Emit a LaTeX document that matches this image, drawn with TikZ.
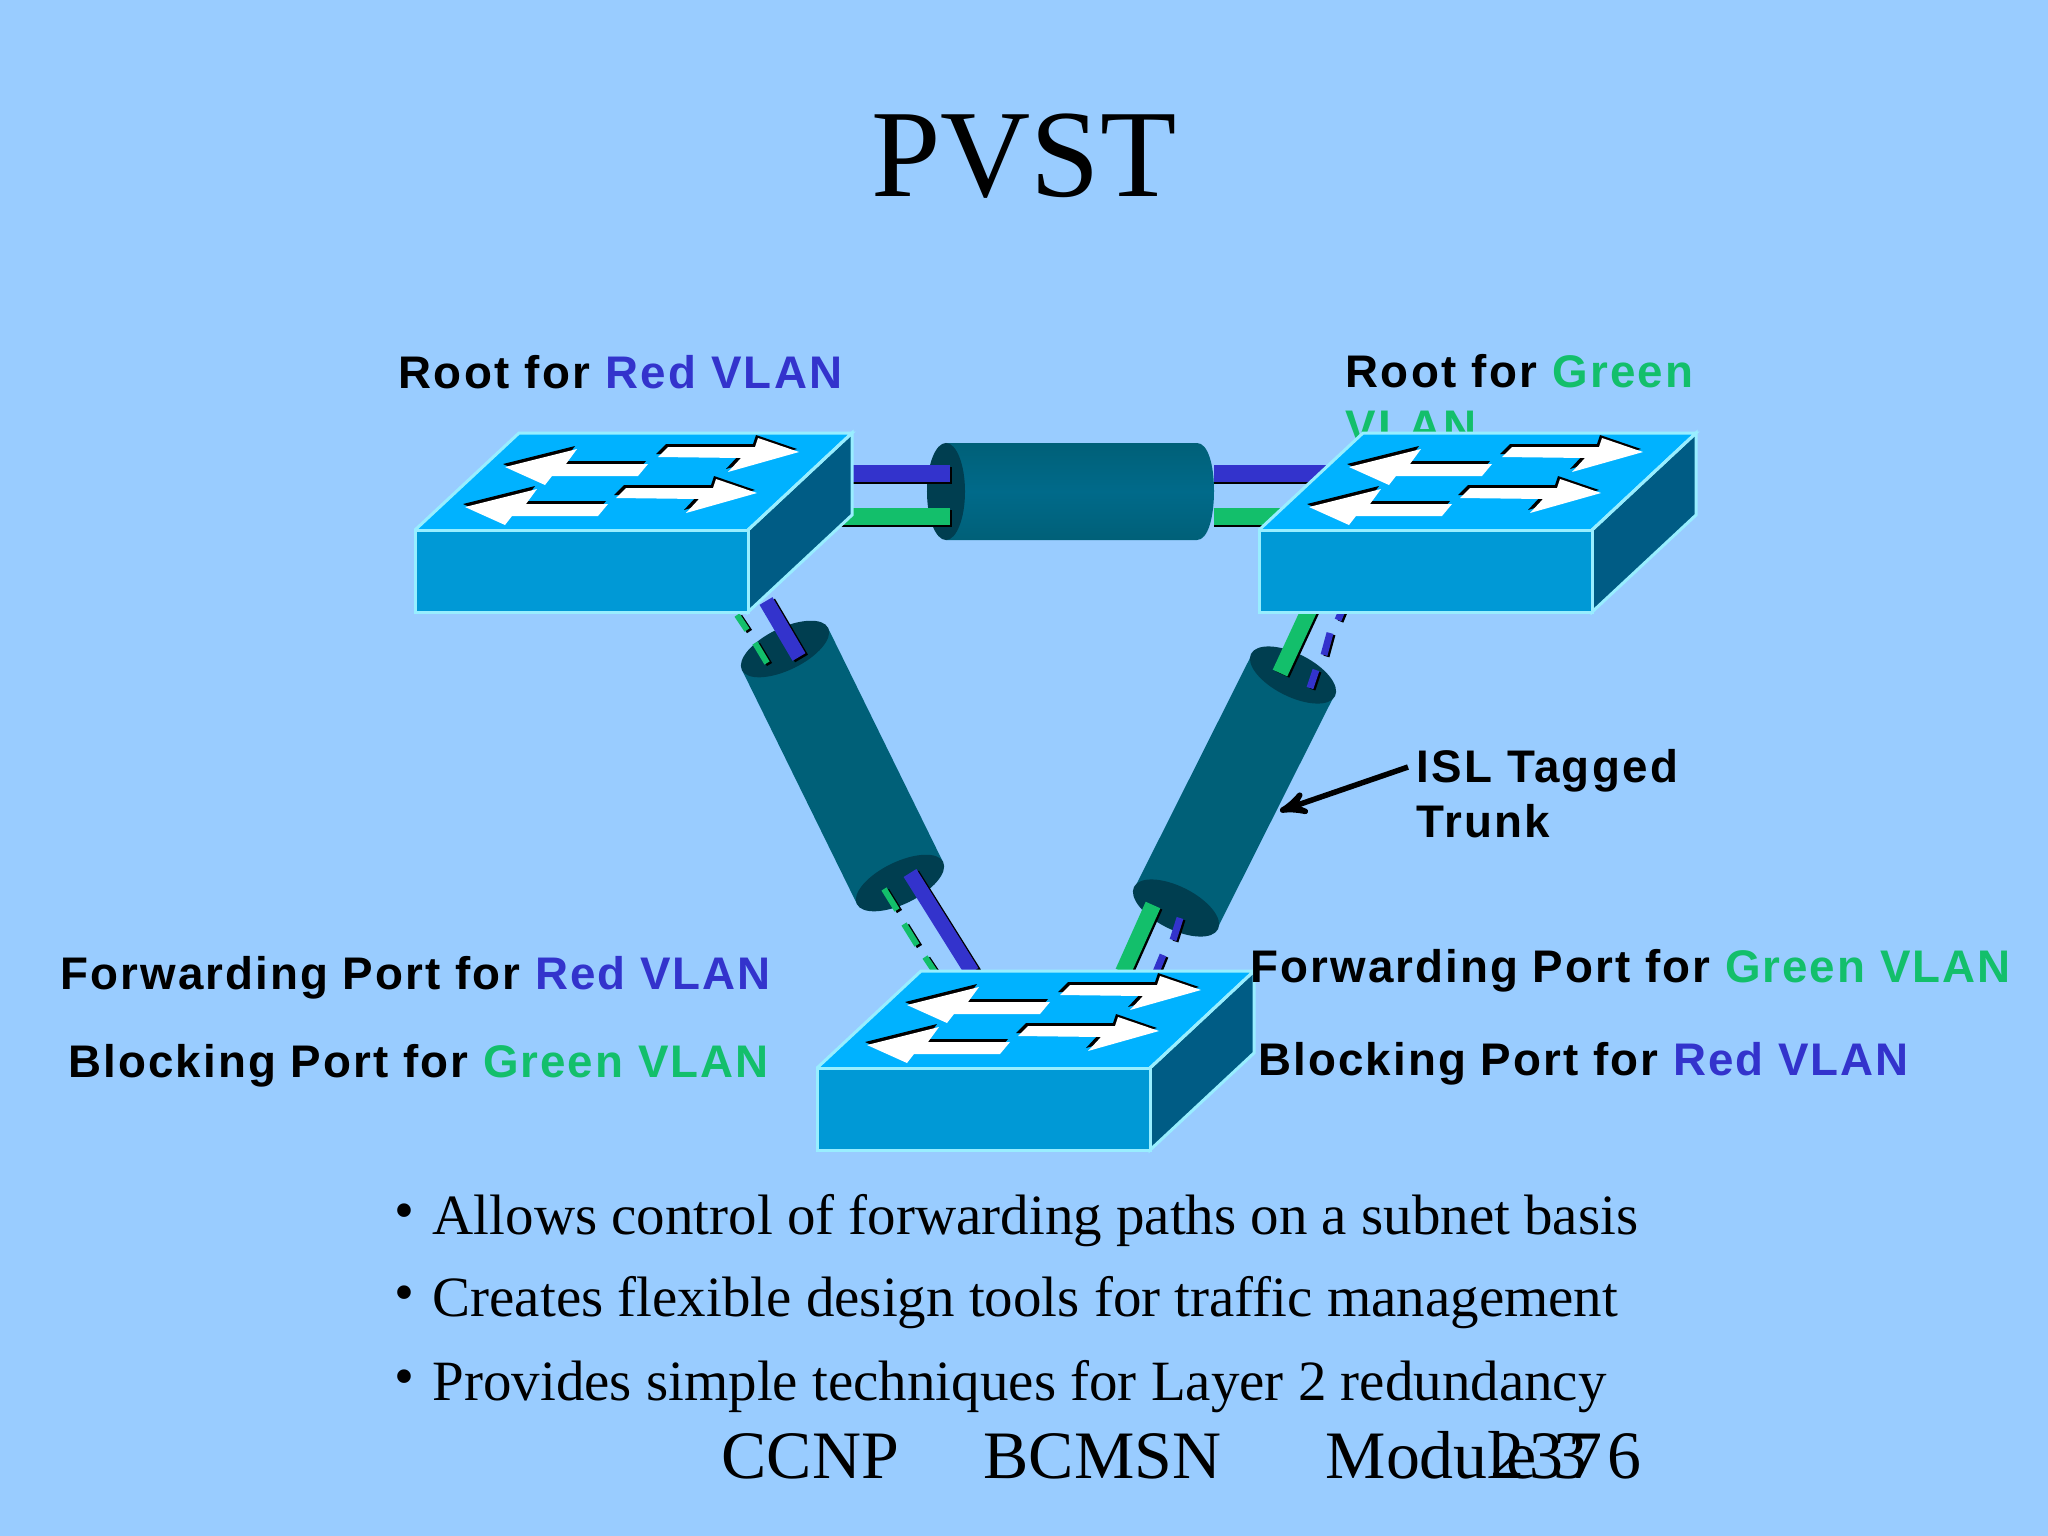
\documentclass[tikz,border=0pt]{standalone}
\usepackage{fontspec}
\setmainfont{Liberation Serif}
\newfontfamily\labelfont[LetterSpace=5]{Liberation Sans}
\newfontfamily\portfont[LetterSpace=4.5]{Liberation Sans}
\newfontfamily\digitfont[LetterSpace=7.5]{Liberation Serif}
\usepackage{tikz}
\usetikzlibrary{arrows, calc}
\definecolor{slidebg}{HTML}{99CCFF}
\definecolor{topface}{HTML}{00B2FF}
\definecolor{frontface}{HTML}{0099D6}
\definecolor{sideface}{HTML}{005C85}
\definecolor{edgeline}{HTML}{99EEFF}
\definecolor{tubebody}{HTML}{006078}
\definecolor{tubemid}{HTML}{006A8A}
\definecolor{tubeend}{HTML}{003E50}
\definecolor{vlanblue}{HTML}{3333CC}
\definecolor{vlangreen}{HTML}{13BF6B}
\tikzset{
  lbl/.style = {anchor=base west, inner sep=0pt, align=left,
    font=\labelfont\bfseries\fontsize{13pt}{15.4pt}\selectfont},
  portlbl/.style = {lbl, font=\portfont\bfseries\fontsize{13pt}{15.4pt}\selectfont},
  bullet/.style = {anchor=base west, inner sep=0pt, font=\fontsize{16.2pt}{18pt}\selectfont},
  foot/.style = {anchor=base west, inner sep=0pt, font=\fontsize{19.3pt}{22pt}\selectfont},
  face/.style = {draw=edgeline, line width=0.03cm, line join=miter},
  wblue/.style = {vlanblue, line width=0.15cm},
  wgreen/.style = {vlangreen, line width=0.16cm},
  wshadow/.style = {black, line width=0.15cm},
  thinblue/.style = {vlanblue, line width=0.07cm},
  thingreen/.style = {vlangreen, line width=0.06cm},
  thinshadow/.style = {black, line width=0.06cm},
  switch/.pic = {
    \fill[topface] (0,0) -- (104,-97) -- (437,-97) -- (333,0) -- cycle;
    \draw[face, fill=sideface] (333,0) -- (437,-97) -- (437,-15) -- (333,82) -- cycle;
    \draw[face, fill=frontface] (0,0) rectangle (333,82);
    \draw[face] (0,0) -- (104,-97) -- (437,-97) -- (333,0);
    % left arrows
    \foreach \dx/\dy in {0/0, -40/40} {
      \fill[black, shift={(\dx-2,\dy-3)}] (90,-63) -- (162,-81) -- (151,-66) -- (233,-66) -- (223,-54) -- (137,-54) -- (130,-45) -- cycle;
      \fill[white, shift={(\dx,\dy)}] (90,-63) -- (162,-81) -- (151,-66) -- (233,-66) -- (223,-54) -- (137,-54) -- (130,-45) -- cycle;
    }
    % right arrows
    \foreach \dx/\dy in {0/0, -42/41} {
      \fill[black, shift={(\dx-2,\dy-3)}] (253,-83) -- (340,-83) -- (343,-92) -- (384,-78) -- (313,-58) -- (326,-72) -- (243,-73) -- cycle;
      \fill[white, shift={(\dx,\dy)}] (253,-83) -- (340,-83) -- (343,-92) -- (384,-78) -- (313,-58) -- (326,-72) -- (243,-73) -- cycle;
    }
  }
}
% end a, end b, half width, angle, radii
\newcommand{\tube}[6]{
  \fill[tubebody] ($(#1)+(#3)$) -- ($(#2)+(#3)$) -- ($(#2)-(#3)$) -- ($(#1)-(#3)$) -- cycle;
  \fill[tubeend, shift={(#1)}, rotate=#4] (0,0) circle [x radius=#5, y radius=#6];
  \fill[tubeend, shift={(#2)}, rotate=#4] (0,0) circle [x radius=#5, y radius=#6];
}
% wire style, shadow style, from, to
\newcommand{\wire}[4]{
  \draw[#2] ($(#3)+(2.5,1.5)$) -- ($(#4)+(2.5,1.5)$);
  \draw[#1] (#3) -- (#4);
}

\begin{document}
\begin{tikzpicture}[x=0.01cm, y=-0.01cm, >=stealth']
\fill[slidebg] (0,0) rectangle (2048,1536);
\useasboundingbox (0,0) rectangle (2048,1536);

\node [anchor=base, inner sep=0pt, font=\fontsize{35.5pt}{40pt}\selectfont] (title) at (1024,196) {PVST};
\node [lbl] (roota) at (398,388) {Root for \textcolor{vlanblue}{Red VLAN}};
\node [lbl] (rootb) at (1345,442) {Root for \textcolor{vlangreen}{Green}\\\textcolor{vlangreen}{VLAN}};

% horizontal trunk
\coordinate (swaeast) at (840,473);
\coordinate (hl) at (950,473);
\coordinate (hr) at (1214,473);
\coordinate (swbwest) at (1340,473);
\coordinate (swaeastg) at (835,516);
\coordinate (hlg) at (950,516);
\coordinate (hrg) at (1214,516);
\coordinate (swbwestg) at (1280,516);
\shade[top color=tubebody, bottom color=tubebody, middle color=tubemid] (946,443) -- (1197,443) .. controls (1208,443) and (1214,465) .. (1214,491) .. controls (1214,517) and (1208,540) .. (1197,540) -- (946,540) -- cycle;
\fill[tubeend] (946,491.5) circle [x radius=0.19cm, y radius=0.485cm];
\foreach \a/\b/\c in {swaeast/hl/vlanblue, swaeastg/hlg/vlangreen} {
  \draw[black, line width=0.17cm] ($(\a)+(1.5,2.5)$) -- ($(\b)+(1.5,2.5)$);
  \draw[\c, line width=0.17cm] (\a) -- (\b);
}
\foreach \a/\b/\c in {hr/swbwest/vlanblue, hrg/swbwestg/vlangreen} {
  \draw[black, line width=0.17cm] ($(\a)+(0,2.5)$) -- ($(\b)+(0,2.5)$);
  \draw[\c, line width=0.17cm] (\a) -- (\b);
}

% left trunk
\coordinate (ta) at (785,649);
\coordinate (tb) at (900,883);
\tube{ta}{tb}{43,-21}{26}{0.48cm}{0.21cm}
\coordinate (a1) at (766,601);
\coordinate (a2) at (799,657);
\coordinate (a3) at (910,873);
\coordinate (a4) at (972,972);
\wire{wblue}{wshadow}{a1}{a2}
\wire{wblue}{wshadow}{a3}{a4}
\foreach \p/\q/\r/\s in {737/615/747/630, 755/643/767/663, 884/889/897/910, 904/924/917/945, 925/957/935/972} {
  \coordinate (g1) at (\p,\q);
  \coordinate (g2) at (\r,\s);
  \wire{thingreen}{thinshadow}{g1}{g2}
}

% right trunk
\coordinate (tc) at (1293,675);
\coordinate (td) at (1176,908);
\tube{tc}{td}{41,21}{-26.7}{0.47cm}{0.215cm}
\coordinate (b1) at (1311,606);
\coordinate (b2) at (1280,673);
\coordinate (b3) at (1153,905);
\coordinate (b4) at (1123,972);
\wire{wgreen}{wshadow}{b1}{b2}
\wire{wgreen}{wshadow}{b3}{b4}
\foreach \p/\q/\r/\s in {1343/608/1338/620, 1330/633/1324/655, 1316/670/1310/688, 1180/918/1173/940, 1163/955/1156/972} {
  \coordinate (g1) at (\p,\q);
  \coordinate (g2) at (\r,\s);
  \wire{thinblue}{thinshadow}{g1}{g2}
}

% switches
\pic (swa) at (415,530) {switch};
\pic (swb) at (1259,530) {switch};
\pic (swc) at (817,1068) {switch};

% labels
\node [lbl] (isl) at (1416,837) {ISL Tagged\\Trunk};
\coordinate (islin) at (1280,811);
\draw[->, line width=0.055cm] ($(isl.north west)+(-8,18)$) -- (islin);
\node [portlbl] (fwda) at (60,989) {Forwarding Port for \textcolor{vlanblue}{Red VLAN}};
\node [portlbl] (blka) at (68,1077) {Blocking Port for \textcolor{vlangreen}{Green VLAN}};
\node [portlbl] (fwdb) at (1250,982) {Forwarding Port for \textcolor{vlangreen}{Green VLAN}};
\node [portlbl] (blkb) at (1258,1075) {Blocking Port for \textcolor{vlanblue}{Red VLAN}};

% bullets
\foreach \y/\t/\n in {1234/Allows control of forwarding paths on a subnet basis/pa, 1316/Creates flexible design tools for traffic management/pb, 1400/Provides simple techniques for Layer 2 redundancy/pc} {
  \node [bullet] (dot\n) at (394,\y-5) {•};
  \node [bullet] (\n) at (432,\y) {\t};
}

% footer
\node [foot] (fa) at (721,1478) {CCNP};
\node [foot] (fb) at (983,1478) {BCMSN};
\node [foot] (fc) at (1325,1478) {Module 3};
\node [foot] (fd) at (1490,1478) {\digitfont 2376};
\end{tikzpicture}
\end{document}
